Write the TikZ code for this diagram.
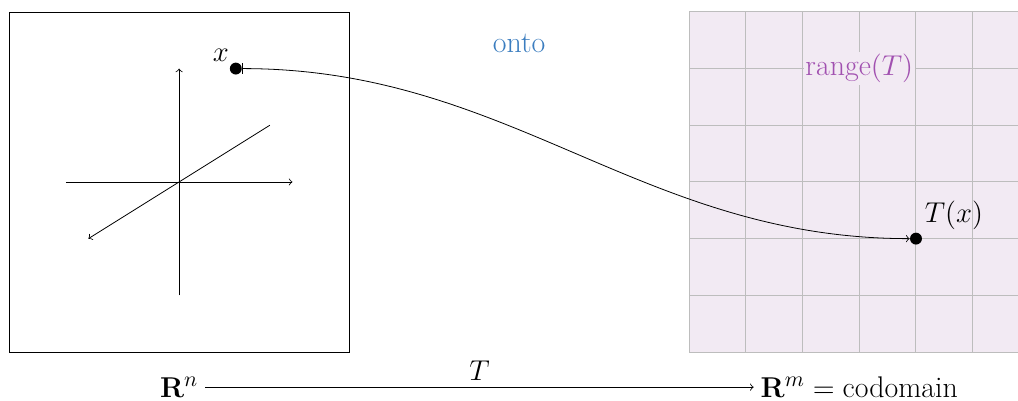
\documentclass[tikz,border=0pt]{standalone}
\usepackage{amsmath}
\usetikzlibrary{arrows}
\definecolor{ontoblue}{HTML}{3B7DBF}
\definecolor{rangepurple}{HTML}{A150B0}
\definecolor{rangebg}{HTML}{F2EAF3}
\definecolor{gridgray}{HTML}{BDBDBD}
\begin{document}
\begin{tikzpicture}[
  font=\fontsize{15}{18}\selectfont,
  dotnode/.style={circle,fill=black,inner sep=0pt,minimum size=0.21cm},
  axis/.style={->,thin},
]
\useasboundingbox (-0.16,-0.85) rectangle (17.8,6.21);
% codomain box
\fill[rangebg] (12,0) rectangle (18,6);
\draw[gridgray,line width=0.5pt] (12,0) grid (18,6);
% domain box
\draw (0,0) rectangle (6,6);
% axes
\coordinate (o) at (3,3);
\coordinate (xl) at (1,3);
\coordinate (xr) at (5,3);
\coordinate (yb) at (3,1);
\coordinate (yt) at (3,5);
\coordinate (zf) at (4.6,4);
\coordinate (zb) at (1.4,2);
\draw[axis] (xl) -- (xr);
\draw[axis] (yb) -- (yt);
\draw[axis] (zf) -- (zb);
% points
\node[dotnode] (x) at (4,5) {};
\node[anchor=south east,inner sep=1pt] (xlab) at (x.north west) {$x$};
\node[dotnode] (Tx) at (16,2) {};
\node[anchor=south west,inner sep=2pt] (Txlab) at (Tx.north east) {$T(x)$};
\draw[|->] (x) to[out=0,in=180] (Tx);
% labels
\node[text=ontoblue] (onto) at (9,5.45) {onto};
\node[text=rangepurple,fill=rangebg,inner sep=1pt] (range) at (15,5) {range$(T)$};
% bottom
\node (Rn) at (3,-0.62) {$\mathbf{R}^n$};
\node (Rm) at (15,-0.62) {$\mathbf{R}^m = \text{codomain}$};
\draw[->] (Rn) -- node[above] {$T$} (Rm);
\end{tikzpicture}
\end{document}
